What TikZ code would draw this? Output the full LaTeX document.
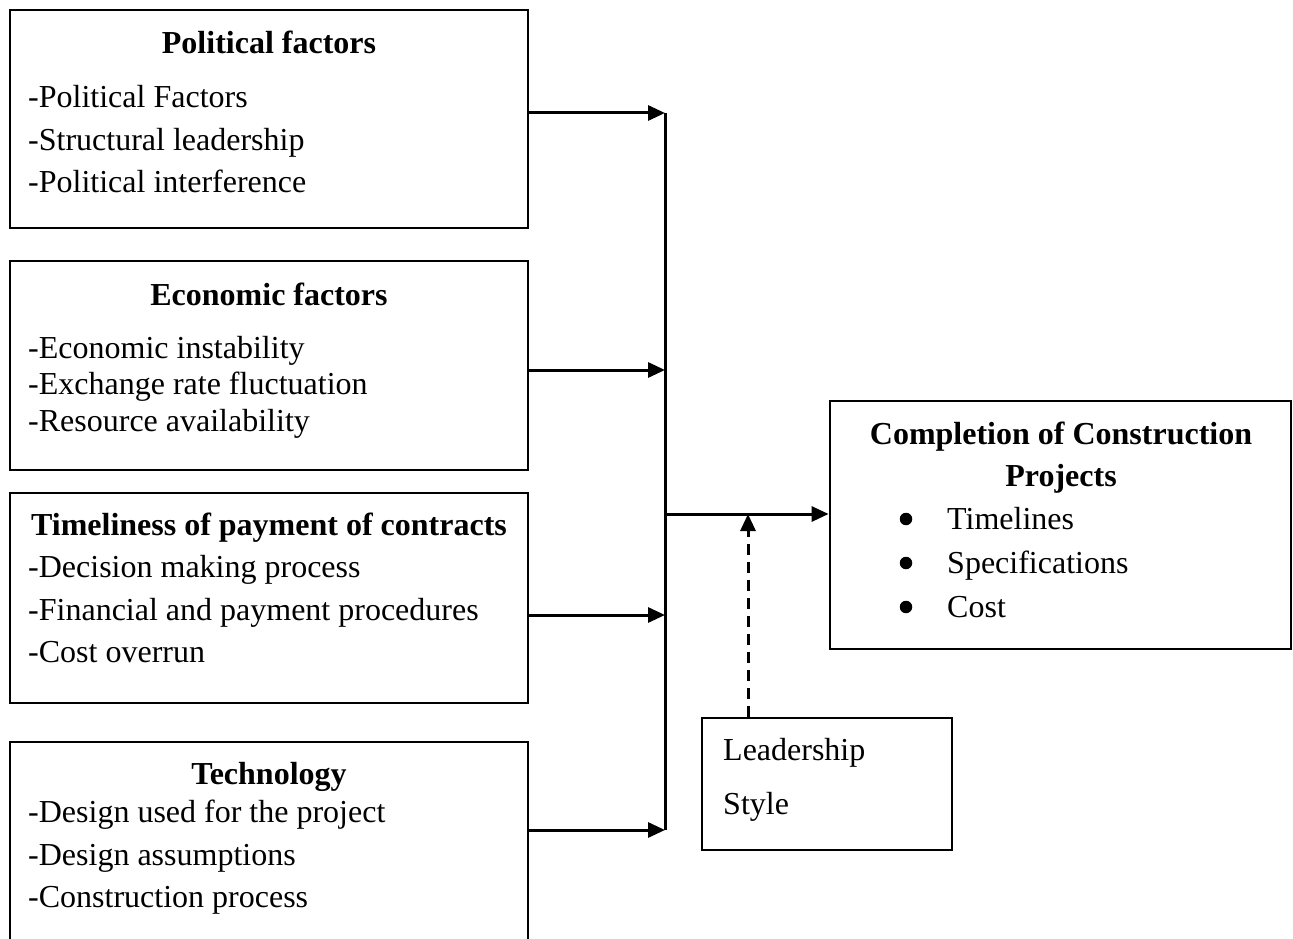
\documentclass[tikz,border=0pt]{standalone}
\usepackage{fontspec}
\setmainfont{Liberation Serif}
\usetikzlibrary{arrows.meta}
\newcommand\bodyfs{\fontsize{32pt}{38pt}\selectfont}
\begin{document}
\begin{tikzpicture}[x=1pt,y=-1pt,
  box/.style={draw, line width=2.8pt, inner sep=0pt},
  ttl/.style={anchor=base, inner sep=0pt, font=\bodyfs\bfseries},
  itm/.style={anchor=base west, inner sep=0pt, font=\bodyfs},
  bul/.style={circle, fill, inner sep=0pt, minimum size=12.5pt},
  arr/.style={line width=3pt, -{Triangle[length=17pt,width=15pt]}},
  lin/.style={line width=3pt},
  dsh/.style={line width=3pt, dash pattern=on 11pt off 7pt, -{Triangle[length=17pt,width=15pt]}}
]
\useasboundingbox (0,0) rectangle (1293,939);

% boxes
\node[box, minimum width=518pt, minimum height=218pt] (pol) at (269,119) {};
\node[box, minimum width=518pt, minimum height=209pt] (eco) at (269,365.5) {};
\node[box, minimum width=518pt, minimum height=210pt] (tim) at (269,598) {};
\node[box, minimum width=518pt, minimum height=218pt] (tec) at (269,851) {};
\node[box, minimum width=461pt, minimum height=248pt] (comp) at (1060.5,525) {};
\node[box, minimum width=250pt, minimum height=132pt] (lead) at (827,784) {};

% political
\node[ttl] (polt) at (269,54) {Political factors};
\node[itm] (pol1) at (28,108) {-Political Factors};
\node[itm] (pol2) at (28,150) {-Structural leadership};
\node[itm] (pol3) at (28,193) {-Political interference};

% economic
\node[ttl] (ecot) at (269,305) {Economic factors};
\node[itm] (eco1) at (28,358) {-Economic instability};
\node[itm] (eco2) at (28,394) {-Exchange rate fluctuation};
\node[itm] (eco3) at (28,431) {-Resource availability};

% timeliness
\node[ttl] (timt) at (269,535) {Timeliness of payment of contracts};
\node[itm] (tim1) at (28,577) {-Decision making process};
\node[itm] (tim2) at (28,620) {-Financial and payment procedures};
\node[itm] (tim3) at (28,662) {-Cost overrun};

% technology
\node[ttl] (tect) at (269,784) {Technology};
\node[itm] (tec1) at (28,822) {-Design used for the project};
\node[itm] (tec2) at (28,865) {-Design assumptions};
\node[itm] (tec3) at (28,907) {-Construction process};

% completion
\node[ttl] (compt1) at (1061,444) {Completion of Construction};
\node[ttl] (compt2) at (1061,486) {Projects};
\node[bul] (cb1) at (906,519) {};
\node[bul] (cb2) at (906,563) {};
\node[bul] (cb3) at (906,607) {};
\node[itm] (comp1) at (947,529) {Timelines};
\node[itm] (comp2) at (947,573) {Specifications};
\node[itm] (comp3) at (947,617) {Cost};

% leadership
\node[itm] (lead1) at (723,760) {Leadership};
\node[itm] (lead2) at (723,814) {Style};

% connectors
\coordinate (j1) at (665,113);
\coordinate (j2) at (665,370);
\coordinate (j3) at (665,615);
\coordinate (j4) at (665,830);
\coordinate (jm) at (665,514);
\coordinate (dtop) at (748,514);

\draw[lin] (j1) -- (j4);
\draw[arr] (pol.east |- j1) -- (j1);
\draw[arr] (eco.east |- j2) -- (j2);
\draw[arr] (tim.east |- j3) -- (j3);
\draw[arr] (tec.east |- j4) -- (j4);
\draw[arr] (jm) -- (jm -| comp.west);
\draw[dsh] (dtop |- lead.north) -- (dtop);
\end{tikzpicture}
\end{document}
